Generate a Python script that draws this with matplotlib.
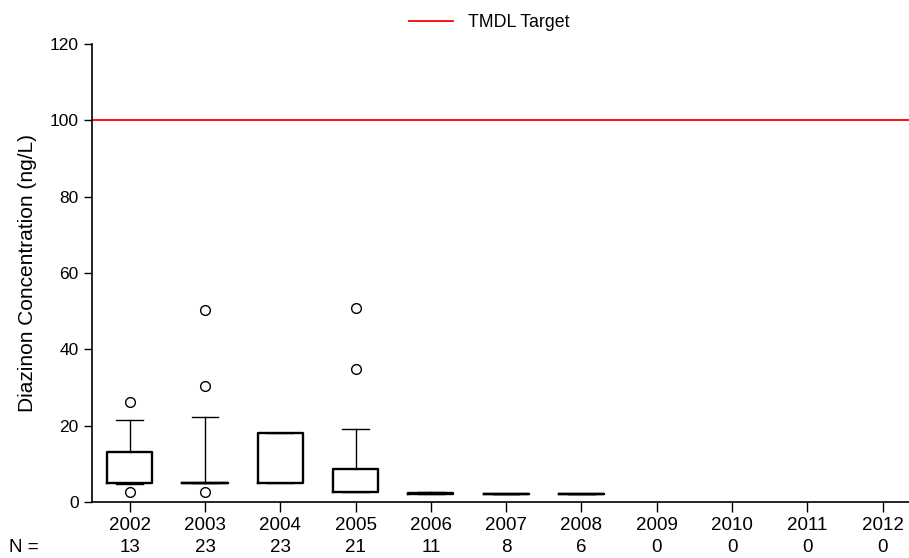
import matplotlib
matplotlib.use("Agg")
import matplotlib.pyplot as plt

# yearly diazinon summaries (ng/L): box quartiles, whisker ends, outliers
years = ["2002", "2003", "2004", "2005", "2006", "2007", "2008",
         "2009", "2010", "2011", "2012"]
n_samples = [13, 23, 23, 21, 11, 8, 6, 0, 0, 0, 0]
q1 = [5.0, 5.0, 5.0, 2.6, 2.0, 2.0, 2.0]
med = [5.0, 5.0, 5.0, 2.6, 2.2, 2.0, 2.0]
q3 = [13.2, 5.0, 18.2, 8.7, 2.4, 2.0, 2.0]
whislo = [4.6, 5.0, 5.0, 2.6, 2.0, 2.0, 2.0]
whishi = [21.4, 22.2, 18.2, 19.0, 2.6, 2.0, 2.0]
fliers = [[26.3, 2.7], [50.2, 30.4, 2.7], [], [50.7, 34.8], [], [], []]
tmdl_target = 100

plt.rcParams["font.family"] = ["Liberation Sans", "DejaVu Sans"]
xfont = dict(fontsize=13.5)

fig = plt.figure(figsize=(9.09, 5.58), dpi=100)
ax = fig.add_axes([0.1012, 0.1004, 0.9112, 0.8208])

stats = []
for i in range(len(q1)):
    stats.append(dict(q1=q1[i], med=med[i], q3=q3[i], whislo=whislo[i],
                      whishi=whishi[i], fliers=fliers[i]))

ax.bxp(stats, positions=range(len(q1)), widths=0.6, capwidths=0.35,
       boxprops=dict(color="black", linewidth=1.7),
       medianprops=dict(color="black", linewidth=1.2),
       whiskerprops=dict(color="black", linewidth=1.0),
       capprops=dict(color="black", linewidth=1.0),
       flierprops=dict(marker="o", markersize=7, markerfacecolor="white",
                       markeredgecolor="black", markeredgewidth=1.0))

ax.axhline(tmdl_target, color="red", linewidth=1.3, label="TMDL Target")

ax.set_xlim(-0.5, 10.5)
ax.set_ylim(0, 120)
ax.set_xticks(range(len(years)))
ax.set_xticklabels(years, **xfont)
ax.set_yticks(range(0, 121, 20))
ax.tick_params(axis="y", labelsize=12.5, direction="out", length=6, width=1)
ax.tick_params(axis="x", direction="out", length=7, width=1, pad=4)
ax.set_ylabel("Diazinon Concentration (ng/L)", fontsize=15, labelpad=9)

for s in ["top", "right"]:
    ax.spines[s].set_visible(False)
for s in ["left", "bottom"]:
    ax.spines[s].set_linewidth(1.2)

# sample counts under each year
trans = ax.get_xaxis_transform()
ax.text(-1.4, -0.1, "N =", transform=trans, ha="center", va="center", **xfont)
for i, n in enumerate(n_samples):
    ax.text(i, -0.1, str(n), transform=trans, ha="center", va="center", **xfont)

fig.legend(loc="center", bbox_to_anchor=(0.538, 0.96), frameon=False,
           fontsize=12.8, handlelength=2.5)

fig.savefig("out.png", dpi=100)
